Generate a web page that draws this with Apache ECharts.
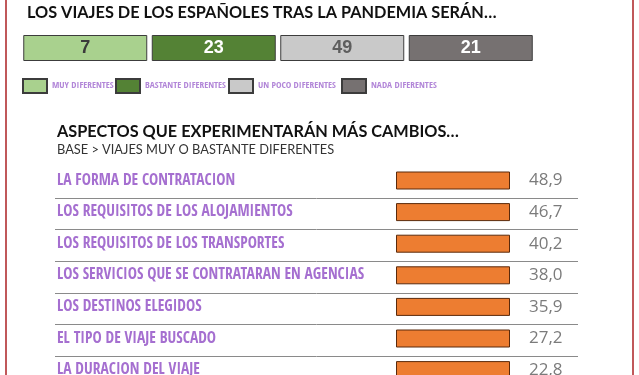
<!DOCTYPE html>
<html>
<head>
<meta charset="utf-8">
<script src="https://cdn.jsdelivr.net/npm/echarts@6/dist/echarts.min.js"></script>
<style>
html,body{margin:0;padding:0;background:#fff;overflow:hidden;}
#chart{width:639px;height:400px;}
</style>
</head>
<body>
<div id="chart"></div>
<script>
// ---- data ----
const shareNames = ['MUY DIFERENTES', 'BASTANTE DIFERENTES', 'UN POCO DIFERENTES', 'NADA DIFERENTES'];
const shares = [7, 23, 49, 21];
// the reference draws every share box with the same size
const shareBoxSize = [1, 1, 1, 1];

const aspects = [
  'LA FORMA DE CONTRATACION',
  'LOS REQUISITOS DE LOS ALOJAMIENTOS',
  'LOS REQUISITOS DE LOS TRANSPORTES',
  'LOS SERVICIOS QUE SE CONTRATARAN EN AGENCIAS',
  'LOS DESTINOS ELEGIDOS',
  'EL TIPO DE VIAJE BUSCADO',
  'LA DURACION DEL VIAJE'
];
const aspectValues = [48.9, 46.7, 40.2, 38.0, 35.9, 27.2, 22.8];
// the reference draws every orange bar at the same (full) length
const aspectBarLength = [100, 100, 100, 100, 100, 100, 100];

const boxColors = ['#a9d18e', '#548235', '#c9c9c9', '#767171'];
const boxLabelColors = ['#3a3a3a', '#ffffff', '#5e5e5e', '#ffffff'];
const NARROW = '"Open Sans Condensed", "Roboto Condensed", sans-serif';
const legendLefts = [22, 115, 228, 341];

const chart = echarts.init(document.getElementById('chart'));

const shareSeries = shareNames.map((name, i) => ({
  name: name,
  type: 'bar',
  xAxisIndex: 0,
  yAxisIndex: 0,
  barWidth: 124,
  barGap: '-100%',
  silent: true,
  itemStyle: { color: boxColors[i], borderColor: '#3c3c3c', borderWidth: 1 },
  label: {
    show: true,
    position: 'inside',
    formatter: () => String(shares[i]),
    fontFamily: 'Liberation Sans, Arial, sans-serif',
    fontWeight: 'bold',
    fontSize: 18,
    color: boxLabelColors[i]
  },
  data: shareNames.map((n, j) => (j === i ? shareBoxSize[j] : '-'))
}));

const sepRows = aspects.length - 1;
const rowPitch = 31.6;

chart.setOption({
  animation: false,
  backgroundColor: '#ffffff',
  title: [
    {
      text: 'LOS VIAJES DE LOS ESPAÑOLES TRAS LA PANDEMIA SERÁN…',
      left: 27, top: 5, padding: 0,
      textStyle: { fontFamily: 'Lato', fontWeight: 'bold', fontSize: 16.3, color: '#111111' }
    },
    {
      text: 'ASPECTOS QUE EXPERIMENTARÁN MÁS CAMBIOS…',
      subtext: 'BASE > VIAJES MUY O BASTANTE DIFERENTES',
      left: 57, top: 124, padding: 0, itemGap: 3,
      textStyle: { fontFamily: 'Lato', fontWeight: 'bold', fontSize: 16.3, color: '#111111' },
      subtextStyle: { fontFamily: 'Lato', fontSize: 12.8, color: '#333333' }
    }
  ],
  legend: shareNames.map((name, i) => ({
    data: [name],
    left: legendLefts[i], top: 78,
    itemWidth: 24, itemHeight: 14, itemGap: 5,
    icon: 'rect',
    selectedMode: false,
    padding: 0,
    textStyle: { fontFamily: NARROW, fontWeight: 'bold', fontSize: 9.4, color: '#b286d8' }
  })),
  grid: [
    { left: 21, width: 514, top: 35, height: 26 },
    { left: 396, width: 114, top: 180.5 - rowPitch / 2, height: rowPitch * aspects.length },
    { left: 55, width: 523, top: 198, height: rowPitch * sepRows }
  ],
  xAxis: [
    { type: 'category', gridIndex: 0, data: shareNames, show: false },
    { type: 'value', gridIndex: 1, min: 0, max: 100, show: false },
    { type: 'value', gridIndex: 2, min: 0, max: 1, show: false }
  ],
  yAxis: [
    { type: 'value', gridIndex: 0, min: 0, max: 1, show: false },
    {
      type: 'category', gridIndex: 1, data: aspects, inverse: true, position: 'left',
      axisLine: { show: false }, axisTick: { show: false }, splitLine: { show: false },
      axisLabel: {
        align: 'left', margin: 339,
        fontFamily: NARROW, fontWeight: 'bold', fontSize: 15.5, color: '#a56fd0'
      }
    },
    {
      type: 'category', gridIndex: 1, data: aspects, inverse: true, position: 'right',
      axisLine: { show: false }, axisTick: { show: false }, splitLine: { show: false },
      axisLabel: {
        align: 'left', margin: 19,
        formatter: (v, idx) => aspectValues[idx].toFixed(1).replace('.', ','),
        fontFamily: 'Open Sans', fontSize: 17, color: '#7b7b7b'
      }
    },
    {
      type: 'value', gridIndex: 2, min: 0, max: sepRows, interval: 1, inverse: true,
      axisLine: { show: false }, axisTick: { show: false }, axisLabel: { show: false },
      splitLine: { show: true, lineStyle: { color: '#8a8a8a', width: 1 } }
    }
  ],
  series: shareSeries.concat([
    {
      name: 'aspectos',
      type: 'bar',
      xAxisIndex: 1,
      yAxisIndex: 1,
      barWidth: 18,
      silent: true,
      itemStyle: { color: '#ed7d31', borderColor: '#5a2a0c', borderWidth: 1 },
      data: aspectBarLength
    }
  ]),
  graphic: [
    { type: 'rect', shape: { x: 5, y: -2, width: 2, height: 410 }, style: { fill: '#c0585a' }, silent: true },
    { type: 'rect', shape: { x: 632, y: -2, width: 2, height: 410 }, style: { fill: '#c0585a' }, silent: true }
  ]
});
</script>
</body>
</html>
